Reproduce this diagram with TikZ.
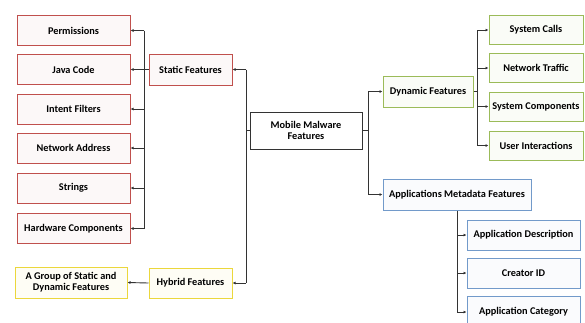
\documentclass[tikz,border=0pt]{standalone}
\usepackage{fontspec}
\setmainfont{Carlito}
\usetikzlibrary{arrows.meta}
\definecolor{redbox}{RGB}{192,80,77}
\definecolor{greenbox}{RGB}{155,187,89}
\definecolor{bluebox}{RGB}{79,129,189}
\definecolor{yellowbox}{RGB}{235,215,60}
\begin{document}
\begin{tikzpicture}[x=1pt,y=-1pt,
  box/.style={draw,line width=1pt,fill=white,align=center,inner sep=1pt,
    font=\fontsize{10.3}{11}\selectfont\bfseries},
  redb/.style={box,draw=redbox,fill=redbox!4,minimum width=113pt,minimum height=30pt},
  yelb/.style={box,draw=yellowbox,fill=yellowbox!5},
  greenb/.style={box,draw=greenbox,fill=greenbox!5,minimum width=94pt,minimum height=29pt},
  blueb/.style={box,draw=bluebox!80,fill=bluebox!3,minimum width=113pt,minimum height=30pt},
  link/.style={line width=0.9pt,black!80},
  arr/.style={link,-{Latex[length=3pt,width=3pt]}}]
\useasboundingbox (0,0) rectangle (585,322);
% left column
\node[redb] (perm) at (73.5,30.5) {Permissions};
\node[redb] (java) at (73.5,69.5) {Java Code};
\node[redb] (intent) at (73.5,109) {Intent Filters};
\node[redb] (netaddr) at (73.5,148) {Network Address};
\node[redb] (strings) at (73.5,188) {Strings};
\node[redb] (hardware) at (73.5,228.5) {Hardware Components};
\node[yelb,minimum width=112pt,minimum height=31pt] (group) at (71,282.5) {A Group of Static and\\Dynamic Features};
% middle
\node[redb,minimum width=83pt,minimum height=31pt] (static) at (190.5,69.5) {Static Features};
\node[yelb,minimum width=83pt,minimum height=30pt] (hybrid) at (190.5,283) {Hybrid Features};
\node[box,draw=black!80,minimum width=112pt,minimum height=37pt] (root) at (306,130.5) {Mobile Malware\\Features};
% right
\node[box,draw=greenbox,fill=greenbox!5,minimum width=90pt,minimum height=31pt] (dynamic) at (428,91.5) {Dynamic Features};
\node[blueb,minimum width=148pt,minimum height=31pt] (meta) at (457,194.5) {Applications Metadata Features};
\node[greenb] (syscalls) at (536,30) {System Calls};
\node[greenb] (traffic) at (536,68) {Network Traffic};
\node[greenb] (syscomp) at (536,106.5) {System Components};
\node[greenb] (userint) at (536,145.5) {User Interactions};
\node[blueb] (desc) at (523.5,235) {Application Description};
\node[blueb] (creator) at (523.5,273) {Creator ID};
\node[blueb,minimum height=32pt] (category) at (523.5,312) {Application Category};
% static bus
\coordinate (sbus) at (144,0);
\draw[link] (sbus |- perm.east) -- (sbus |- hardware.east);
\draw[link] (static.west) -- (sbus |- static.west);
\foreach \n in {perm,java,intent,netaddr,strings,hardware}
  \draw[arr] (sbus |- \n.east) -- (\n.east);
\draw[arr] (hybrid.west) -- (group.east);
% root bus
\coordinate (rbus) at (246,0);
\draw[link] (root.west) -- (rbus |- root.west);
\draw[link] (rbus |- static.east) -- (rbus |- hybrid.east);
\draw[arr] (rbus |- static.east) -- (static.east);
\draw[arr] (rbus |- hybrid.east) -- (hybrid.east);
\coordinate (qbus) at (368,0);
\draw[link] (root.east) -- (qbus |- root.east);
\draw[link] (qbus |- dynamic.west) -- (qbus |- meta.west);
\draw[arr] (qbus |- dynamic.west) -- (dynamic.west);
\draw[arr] (qbus |- meta.west) -- (meta.west);
% dynamic bus
\coordinate (dbus) at (477,0);
\draw[link] (dynamic.east) -- (dbus |- dynamic.east);
\draw[link] (dbus |- syscalls.west) -- (dbus |- userint.west);
\foreach \n in {syscalls,traffic,syscomp,userint}
  \draw[arr] (dbus |- \n.west) -- (\n.west);
% metadata bus
\coordinate (mbus) at (457,0);
\draw[link] (mbus |- meta.south) -- (mbus |- category.west);
\foreach \n in {desc,creator,category}
  \draw[arr] (mbus |- \n.west) -- (\n.west);
\end{tikzpicture}
\end{document}
